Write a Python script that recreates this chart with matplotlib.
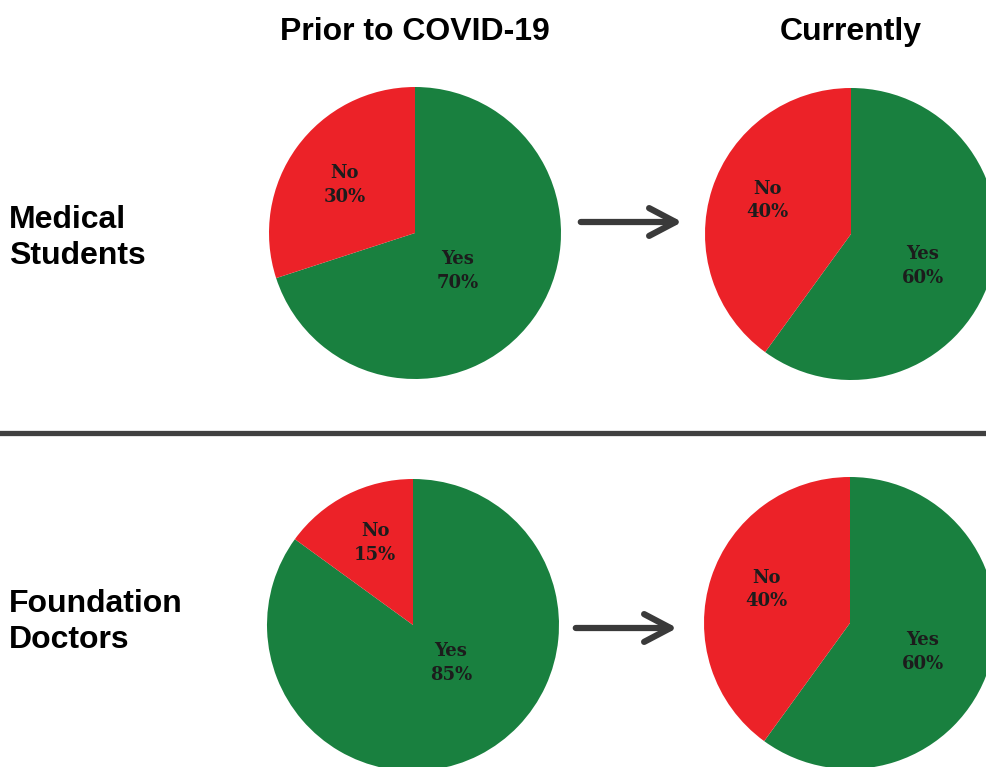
import matplotlib.pyplot as plt
from matplotlib.patches import FancyArrowPatch
from matplotlib.lines import Line2D

# data
groups = ['Medical\nStudents', 'Foundation\nDoctors']
periods = ['Prior to COVID-19', 'Currently']
answers = ['Yes', 'No']
values = [[[70, 30], [60, 40]],
          [[85, 15], [60, 40]]]

colors = ['#19803F', '#EC2228']
W, H = 987, 767

# pie centres / radius in pixels, label offsets in radius units
centres = [[(415, 233), (851, 234)], [(413, 625), (850, 623)]]
radius = 146
label_pos = [[[(0.29, -0.26), (-0.48, 0.33)], [(0.49, -0.22), (-0.57, 0.23)]],
             [[(0.26, -0.26), (-0.26, 0.56)], [(0.50, -0.20), (-0.57, 0.23)]]]
row_label_y = [238, 622]

fig = plt.figure(figsize=(W / 100, H / 100), dpi=100)

for r in range(2):
    for c in range(2):
        cx, cy = centres[r][c]
        ax = fig.add_axes([(cx - radius) / W, (H - cy - radius) / H,
                           2 * radius / W, 2 * radius / H])
        ax.pie(values[r][c], colors=colors, startangle=90, counterclock=False,
               radius=1, wedgeprops=dict(linewidth=0))
        ax.set_xlim(-1, 1)
        ax.set_ylim(-1, 1)
        ax.set_aspect('equal')
        ax.axis('off')
        for i, v in enumerate(values[r][c]):
            lx, ly = label_pos[r][c][i]
            ax.text(lx, ly, '%s\n%d%%' % (answers[i], v), ha='center', va='center',
                    fontsize=13, fontweight='bold', family='DejaVu Serif',
                    color='#1c1c1c', linespacing=1.4)

# column titles
for c, t in enumerate(periods):
    fig.text(centres[0][c][0] / W, 1 - 32 / H, t, ha='center', va='center',
             fontsize=23, fontweight='bold', family='Liberation Sans')

# row labels
for r, g in enumerate(groups):
    fig.text(9 / W, 1 - row_label_y[r] / H, g, ha='left', va='center',
             fontsize=23, fontweight='bold', family='Liberation Sans', linespacing=1.3)

# arrows
for y, x0 in [(222, 578), (628, 573)]:
    arr = FancyArrowPatch((x0 / W, 1 - y / H), ((x0 + 107) / W, 1 - y / H),
                          transform=fig.transFigure, arrowstyle='->,head_length=19,head_width=10',
                          color='#3a3a3a', linewidth=4.5, capstyle='round',
                          joinstyle='round', mutation_scale=1)
    fig.patches.append(arr)

# divider
fig.add_artist(Line2D([0, 1], [1 - 433 / H, 1 - 433 / H], transform=fig.transFigure,
                      color='#404040', linewidth=3.8))

fig.savefig('out.png', dpi=100)
